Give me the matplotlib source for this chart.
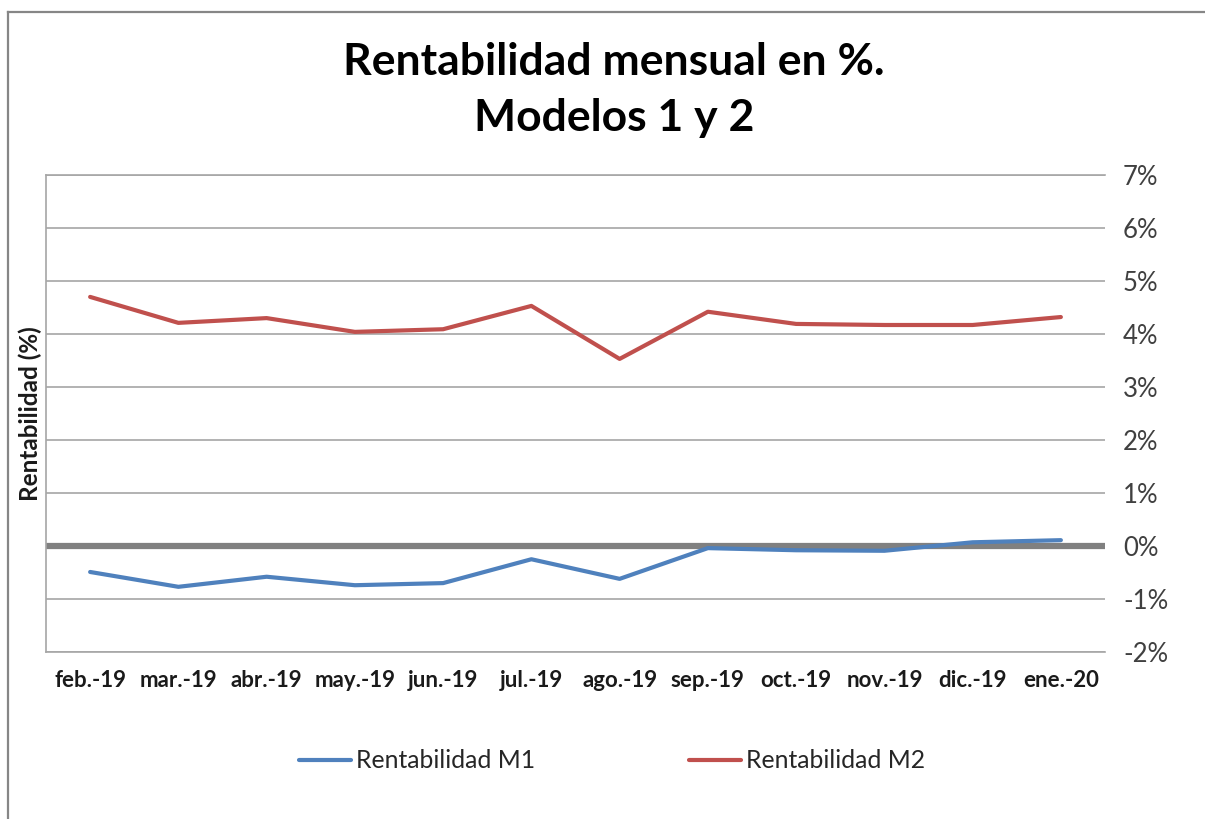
import numpy as np
import matplotlib
matplotlib.use('Agg')
import matplotlib.pyplot as plt
from matplotlib.lines import Line2D
from matplotlib.ticker import FuncFormatter

plt.rcParams['font.family'] = ['Lato', 'DejaVu Sans']

meses = ['feb.-19', 'mar.-19', 'abr.-19', 'may.-19', 'jun.-19', 'jul.-19',
         'ago.-19', 'sep.-19', 'oct.-19', 'nov.-19', 'dic.-19', 'ene.-20']
m1 = [-0.49, -0.77, -0.58, -0.74, -0.70, -0.25, -0.62, -0.04, -0.08, -0.09, 0.07, 0.11]
m2 = [4.70, 4.21, 4.30, 4.04, 4.09, 4.53, 3.53, 4.42, 4.19, 4.17, 4.17, 4.32]
yticks = list(range(-2, 8))

W, H = 1205, 819
fig = plt.figure(figsize=(W/100, H/100), dpi=100)

# outer chart border (left and top visible)
fig.add_artist(Line2D([8/W, 8/W], [0, 1-12/H], color='#868686', lw=1.6))
fig.add_artist(Line2D([8/W, 1], [1-12/H, 1-12/H], color='#868686', lw=1.6))

ax = fig.add_axes([46/W, 1-652/H, (1105-46)/W, (652-175)/H])
x = np.arange(len(meses))

for v in yticks:
    if v != 0:
        ax.axhline(v, color='#a6a6a6', lw=1.2, zorder=1)
ax.axhline(0, color='#808080', lw=4.5, zorder=2)

ax.plot(x, m1, color='#4f81bd', lw=3, solid_capstyle='round', zorder=3, label='Rentabilidad M1')
ax.plot(x, m2, color='#c0504d', lw=3, solid_capstyle='round', zorder=3, label='Rentabilidad M2')

ax.set_xlim(-0.5, len(meses)-0.5)
ax.set_ylim(-2, 7)
ax.set_xticks(x)
ax.set_xticklabels(meses, fontsize=16, fontweight='bold', color='#1a1a1a')
ax.set_yticks(yticks)
ax.yaxis.set_major_formatter(FuncFormatter(lambda v, p: f'{int(v)}%'))
ax.yaxis.tick_right()
ax.tick_params(axis='y', length=0, pad=13, labelsize=18.5, labelcolor='#404040')
ax.tick_params(axis='x', length=0, pad=13)

for s in ['left', 'top', 'bottom']:
    ax.spines[s].set_color('#a6a6a6')
    ax.spines[s].set_linewidth(1.2)
ax.spines['right'].set_visible(False)

fig.text(30/W, 1-414/H, 'Rentabilidad (%)', rotation=90, ha='center', va='center',
         fontsize=17.5, fontweight='bold', color='#1a1a1a')

fig.text(614/W, 1-62/H, 'Rentabilidad mensual en %.', ha='center', va='center',
         fontsize=32, fontweight='bold', color='black')
fig.text(614/W, 1-118/H, 'Modelos 1 y 2', ha='center', va='center',
         fontsize=32, fontweight='bold', color='black')

fig.legend(loc='center', bbox_to_anchor=(612/W, 1-761/H), ncol=2, frameon=False,
           fontsize=17.8, handlelength=2.1, handletextpad=0.2, columnspacing=6.2,
           labelcolor='#262626')

fig.savefig('out.png', dpi=100)
